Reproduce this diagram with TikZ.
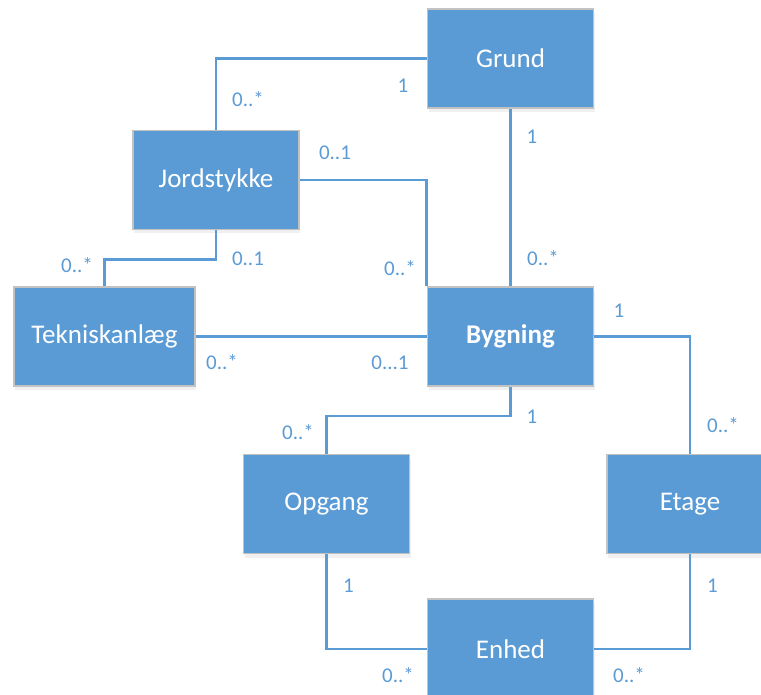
\documentclass[tikz,border=0pt]{standalone}
\usepackage{fontspec}
\setmainfont{Carlito}
\usetikzlibrary{shadows}
\definecolor{boxblue}{HTML}{5B9BD5}
\definecolor{boxrim}{HTML}{C2C2C2}

\begin{document}
\begin{tikzpicture}[x=1pt,y=-1pt,
    entity/.style={draw=boxrim,line width=1.6pt,fill=boxblue,text=white,
        minimum width=166pt,minimum height=99pt,inner sep=0pt,
        font=\fontsize{27}{32}\selectfont,
        drop shadow={opacity=0.12,shadow xshift=1pt,shadow yshift=-4pt}},
    link/.style={draw=boxblue,line width=2.6pt},
    mult/.style={text=boxblue,inner sep=0pt,font=\fontsize{21}{25}\selectfont}]
    \useasboundingbox (0,0) rectangle (761,695);

    % entities
    \node[entity](grund)at(510.5,58.5){Grund};
    \node[entity](jord)at(216,180){Jordstykke};
    \node[entity,minimum width=181pt](tek)at(104.5,336.5){Tekniskanlæg};
    \node[entity](byg)at(510.5,336.5){\textbf{Bygning}};
    \node[entity](opg)at(326.5,504){Opgang};
    \node[entity](etage)at(690,504){Etage};
    \node[entity,minimum height=100pt](enhed)at(510.5,649){Enhed};

    % associations
    \draw[link](jord.north)|-(grund.west);
    \draw[link](jord.east)-|(byg.north west);
    \draw[link](jord.south)--++(0,29)-|(tek.north);
    \draw[link](grund.south)--(byg.north);
    \draw[link](tek.east)--(byg.west);
    \draw[link](byg.south)--++(0,29)-|(opg.north);
    \draw[link](byg.east)-|(etage.north);
    \draw[link](opg.south)|-(enhed.west);
    \draw[link](etage.south)|-(enhed.east);

    % multiplicities
    \node[mult](m1)at(248,99){0..*};
    \node[mult](m2)at(403,86){1};
    \node[mult](m3)at(335,153){0..1};
    \node[mult](m4)at(532,137){1};
    \node[mult](m5)at(543,258){0..*};
    \node[mult](m6)at(400,268){0..*};
    \node[mult](m7)at(248,259){0..1};
    \node[mult](m8)at(77,265){0..*};
    \node[mult](m9)at(222,362){0..*};
    \node[mult](m10)at(390,363){0...1};
    \node[mult](m11)at(619,311){1};
    \node[mult](m12)at(532,417){1};
    \node[mult](m13)at(298,432){0..*};
    \node[mult](m14)at(723,425){0..*};
    \node[mult](m15)at(348.5,586){1};
    \node[mult](m16)at(712.5,586){1};
    \node[mult](m17)at(398,675){0..*};
    \node[mult](m18)at(629,675){0..*};
\end{tikzpicture}
\end{document}
